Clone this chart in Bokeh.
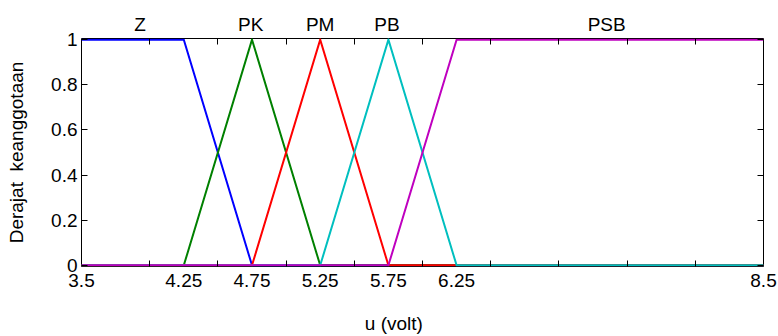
from bokeh.plotting import figure
from bokeh.models import Range1d, FixedTicker, LinearAxis
from bokeh.embed import file_html
from bokeh.resources import INLINE

# membership function vertices over the universe [3.5, 8.5]
names = ["Z", "PK", "PM", "PB", "PSB"]
z_x = [3.5, 4.25, 4.75, 8.5]
z_y = [1, 1, 0, 0]
pk_x = [3.5, 4.25, 4.75, 5.25, 8.5]
pk_y = [0, 0, 1, 0, 0]
pm_x = [3.5, 4.75, 5.25, 5.75, 8.5]
pm_y = [0, 0, 1, 0, 0]
pb_x = [3.5, 5.25, 5.75, 6.25, 8.5]
pb_y = [0, 0, 1, 0, 0]
psb_x = [3.5, 5.75, 6.25, 8.5]
psb_y = [0, 0, 1, 1]
label_x = [3.93, 4.74, 5.25, 5.74, 7.35]
x_tick_labels = [3.5, 4.25, 4.75, 5.25, 5.75, 6.25, 8.5]
x_minor_ticks = [4.0, 4.5, 5.0, 5.5, 6.0, 6.5, 7.0, 7.5, 8.0]
y_ticks = [0, 0.2, 0.4, 0.6, 0.8, 1.0]
x_title = "u (volt)"
x_title_pos = 5.79
y_title = "Derajat\u00a0 keanggotaan"

colors = ["#0000ff", "#008000", "#ff0000", "#00bfbf", "#bf00bf"]
FONT = "Liberation Sans"
FS = "19px"

p = figure(width=778, height=336, output_backend="svg", toolbar_location=None,
           x_range=Range1d(3.5, 8.5), y_range=Range1d(-0.005, 1.005),
           min_border_left=81, min_border_right=15, min_border_top=38, min_border_bottom=69,
           x_axis_location=None, y_axis_location=None)
p.grid.visible = False
p.outline_line_color = "black"
p.outline_line_width = 1
p.background_fill_color = "white"
p.border_fill_color = "white"

series = [(z_x, z_y), (pk_x, pk_y), (pm_x, pm_y), (pb_x, pb_y), (psb_x, psb_y)]
for (xs, ys), c in zip(series, colors):
    p.line(xs, ys, line_color=c, line_width=2, line_join="miter")


def style(ax):
    ax.axis_line_color = None
    ax.major_label_text_font = FONT
    ax.major_label_text_font_size = FS
    ax.major_label_text_color = "black"


# bottom: labelled values + unlabelled inward ticks (as minor ticks)
bottom = LinearAxis(ticker=FixedTicker(ticks=x_tick_labels, minor_ticks=x_minor_ticks))
style(bottom)
bottom.major_tick_in = 0
bottom.major_tick_out = 0
bottom.minor_tick_in = 6
bottom.minor_tick_out = 0
bottom.major_label_standoff = 7
bottom.major_label_overrides = {v: f"{v:g}" for v in x_tick_labels}
p.add_layout(bottom, "below")

# x title placed as a single labelled position below
xt = LinearAxis(ticker=FixedTicker(ticks=[x_title_pos], minor_ticks=[]))
style(xt)
xt.major_tick_in = 0
xt.major_tick_out = 0
xt.minor_tick_in = 0
xt.minor_tick_out = 0
xt.major_label_standoff = 23
xt.major_label_overrides = {x_title_pos: x_title}
p.add_layout(xt, "below")

# top: membership function names + inward ticks
top = LinearAxis(ticker=FixedTicker(ticks=label_x, minor_ticks=x_minor_ticks))
style(top)
top.major_tick_in = 0
top.major_tick_out = 0
top.minor_tick_in = 6
top.minor_tick_out = 0
top.major_label_standoff = 4
top.major_label_overrides = {v: n for v, n in zip(label_x, names)}
p.add_layout(top, "above")

left = LinearAxis(ticker=FixedTicker(ticks=y_ticks, minor_ticks=[]), axis_label=y_title)
style(left)
left.major_tick_in = 6
left.major_tick_out = 0
left.minor_tick_in = 0
left.minor_tick_out = 0
left.major_label_standoff = 4
left.axis_label_standoff = 21
left.axis_label_text_font = FONT
left.axis_label_text_font_size = FS
left.axis_label_text_font_style = "normal"
left.axis_label_text_color = "black"
left.major_label_overrides = {v: f"{v:g}" for v in y_ticks}
p.add_layout(left, "left")

right = LinearAxis(ticker=FixedTicker(ticks=y_ticks, minor_ticks=[]))
style(right)
right.major_tick_in = 6
right.major_tick_out = 0
right.minor_tick_in = 0
right.minor_tick_out = 0
right.major_label_standoff = 0
right.major_label_overrides = {v: "" for v in y_ticks}
p.add_layout(right, "right")

open("out.html", "w").write(file_html(p, INLINE))
